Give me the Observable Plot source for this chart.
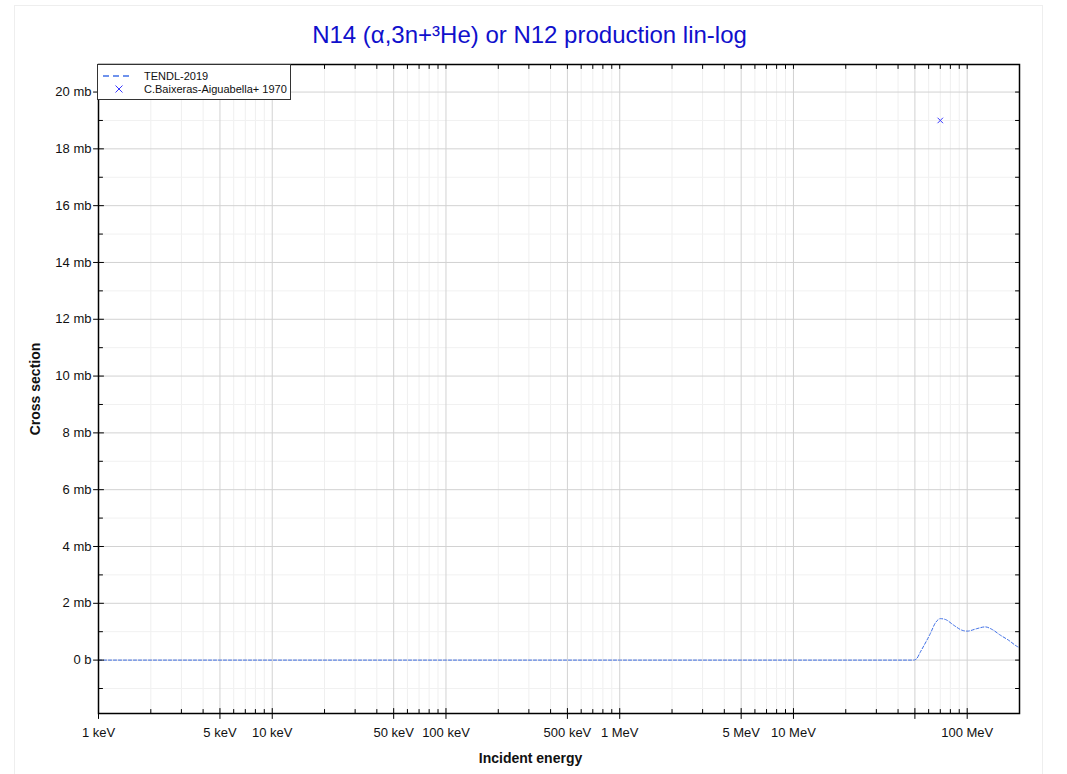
<!DOCTYPE html>
<html>
<head>
<meta charset="utf-8">
<script src="https://cdn.jsdelivr.net/npm/d3@7"></script>
<script src="https://cdn.jsdelivr.net/npm/@observablehq/plot@0.6"></script>
<style>
  body { margin: 0; background: #fff; font-family: Arial, "Liberation Sans", sans-serif; }
  #wrap { position: relative; width: 1067px; height: 774px; overflow: hidden; }
  #border { position: absolute; left: 14px; top: 5px; width: 1027px; height: 800px; border: 1px solid #eeeeee; }
  #chart { position: absolute; left: 0; top: 0; }
  #legend { position: absolute; left: 97px; top: 64px; width: 192px; height: 34px; border: 1px solid #333; background: #fff; font-size: 11px; color: #111; }
  #legend .row { position: absolute; left: 0; height: 14px; line-height: 14px; }
  #legend .lab { position: absolute; left: 46px; white-space: nowrap; }
</style>
</head>
<body>
<div id="wrap">
  <div id="border"></div>
  <div id="chart"></div>
  <div id="legend"></div>
</div>
<script>
// ---- data ----
const titleText = "N14 (α,3n+³He) or N12 production lin-log";
const xTitle = "Incident energy";
const yTitle = "Cross section";

// TENDL-2019 evaluation (energy in eV, cross section in mb)
const tendlEnergy = [1e3, 1e4, 1e5, 1e6, 1e7, 4.5e7, 4.92e7, 5.1e7, 5.38e7, 6.14e7, 6.56e7, 7.01e7, 7.49e7, 8.36e7, 9.35e7, 1.0e8, 1.14e8, 1.27e8, 1.39e8, 1.55e8, 1.73e8, 1.94e8, 2.0e8];
const tendlXS     = [0,   0,   0,   0,   0,    0,      0,      0.04,   0.29,   0.94,   1.31,   1.46,   1.43,   1.23,   1.05,   1.02,  1.11,   1.17,   1.08,   0.88,   0.70,   0.48,   0.44];

// C.Baixeras-Aiguabella+ 1970 measurement
const expEnergy = [7.0e7];
const expXS = [19.0];

// axis ticks
const xMajor = [1e3, 5e3, 1e4, 5e4, 1e5, 5e5, 1e6, 5e6, 1e7, 5e7, 1e8];
const xMinor = [2e3,3e3,4e3,6e3,7e3,8e3,9e3, 2e4,3e4,4e4,6e4,7e4,8e4,9e4, 2e5,3e5,4e5,6e5,7e5,8e5,9e5, 2e6,3e6,4e6,6e6,7e6,8e6,9e6, 2e7,3e7,4e7,6e7,7e7,8e7,9e7, 2e8];
const xLabelValues = [1e3, 5e3, 1e4, 5e4, 1e5, 5e5, 1e6, 5e6, 1e7, 1e8];
const xLabelTexts = ["1 keV", "5 keV", "10 keV", "50 keV", "100 keV", "500 keV", "1 MeV", "5 MeV", "10 MeV", "100 MeV"];
const yMajor = [0, 2, 4, 6, 8, 10, 12, 14, 16, 18, 20];
const yMinor = [-1, 1, 3, 5, 7, 9, 11, 13, 15, 17, 19];
const yLabelTexts = ["0 b", "2 mb", "4 mb", "6 mb", "8 mb", "10 mb", "12 mb", "14 mb", "16 mb", "18 mb", "20 mb"];

const seriesNames = ["TENDL-2019", "C.Baixeras-Aiguabella+ 1970"];

// ---- build ----
const tendl = tendlEnergy.map((e, i) => ({e, xs: tendlXS[i]}));
const exp = expEnergy.map((e, i) => ({e, xs: expXS[i]}));

const tickShape = { draw(ctx, l) { ctx.moveTo(0, 0); ctx.lineTo(0, -l); } };
const tick = (data, opts) => Plot.vector(data, {shape: tickShape, stroke: "#000", strokeWidth: 1, anchor: "start", ...opts});

const W = 1067, H = 774, ML = 98, MR = 48, MT = 64, MB = 61;
const plotCenter = ML + (W - ML - MR) / 2;
const narrow = "'Liberation Sans Narrow', 'Arial Narrow', Arial, sans-serif";

const chart = Plot.plot({
  width: W, height: H,
  marginLeft: ML, marginRight: MR, marginTop: MT, marginBottom: MB,
  style: {fontFamily: "Arial, 'Liberation Sans', sans-serif", fontSize: "12px", background: "transparent"},
  x: {type: "log", domain: [1e3, 2e8], axis: null},
  y: {type: "linear", domain: [-1.88, 20.97], axis: null},
  marks: [
    // grid
    Plot.ruleX(xMinor, {stroke: "#efefef", strokeWidth: 1}),
    Plot.ruleY(yMinor, {stroke: "#f1f1f1", strokeWidth: 1}),
    Plot.ruleX(xMajor, {stroke: "#d2d2d2", strokeWidth: 1}),
    Plot.ruleY(yMajor, {stroke: "#d2d2d2", strokeWidth: 1}),
    // data
    Plot.line(tendl, {x: "e", y: "xs", curve: "monotone-x", stroke: "#3f6fe6", strokeWidth: 1, strokeDasharray: "3,2"}),
    Plot.dot(exp, {x: "e", y: "xs", symbol: "times", r: 2.6, stroke: "#3838ff", strokeWidth: 1}),
    // frame
    Plot.frame({stroke: "#000", strokeWidth: 1.5}),
    // bottom ticks
    tick(xMinor, {x: d => d, frameAnchor: "bottom", length: 4, rotate: 0}),
    tick(xMajor, {x: d => d, frameAnchor: "bottom", length: 10, rotate: 0, anchor: "middle"}),
    // top ticks
    tick(xMinor.concat(xMajor), {x: d => d, frameAnchor: "top", length: 4, rotate: 180}),
    // left ticks
    tick(yMinor, {y: d => d, frameAnchor: "left", length: 4, rotate: 90}),
    tick(yMajor, {y: d => d, frameAnchor: "left", length: 10, rotate: 90, anchor: "middle"}),
    // right ticks
    tick(yMinor.concat(yMajor), {y: d => d, frameAnchor: "right", length: 4, rotate: 270}),
    // tick labels
    Plot.text(xLabelValues, {x: d => d, text: (d, i) => xLabelTexts[i], frameAnchor: "bottom", dy: 19, lineAnchor: "middle", fill: "#111", fontSize: 13, fontFamily: narrow}),
    Plot.text(yMajor, {y: d => d, text: (d, i) => yLabelTexts[i], frameAnchor: "left", dx: -7, textAnchor: "end", fill: "#111", fontSize: 13, fontFamily: narrow}),
    // titles
    Plot.text([titleText], {text: d => d, frameAnchor: "top", dx: 529 - plotCenter, dy: -29, lineAnchor: "middle", textAnchor: "middle", fill: "#1010cc", fontSize: 24}),
    Plot.text([xTitle], {text: d => d, frameAnchor: "bottom", dx: 530 - plotCenter, dy: 45, lineAnchor: "middle", textAnchor: "middle", fill: "#111", fontSize: 14, fontWeight: "bold"}),
    Plot.text([yTitle], {text: d => d, frameAnchor: "left", dx: -63, rotate: -90, lineAnchor: "middle", textAnchor: "middle", fill: "#111", fontSize: 14, fontWeight: "bold"})
  ]
});
document.getElementById("chart").appendChild(chart);

// legend
const legend = document.getElementById("legend");
legend.innerHTML = `
  <div class="row" style="top:4px;width:190px">
    <svg width="40" height="14" style="position:absolute;left:0;top:0"><line x1="5" y1="7" x2="34" y2="7" stroke="#3f6fe6" stroke-width="1.5" stroke-dasharray="6,4"/></svg>
    <span class="lab">${seriesNames[0]}</span>
  </div>
  <div class="row" style="top:17px;width:190px">
    <svg width="40" height="14" style="position:absolute;left:0;top:0"><path d="M17.5,3.5L24.5,10.5M24.5,3.5L17.5,10.5" stroke="#3838ff" stroke-width="1"/></svg>
    <span class="lab">${seriesNames[1]}</span>
  </div>`;
</script>
</body>
</html>
